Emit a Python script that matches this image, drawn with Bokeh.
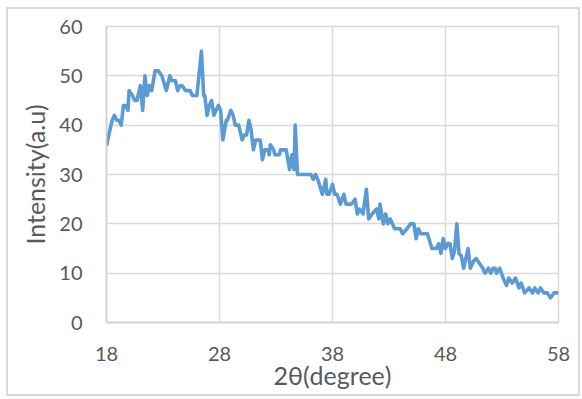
from bokeh.plotting import figure
from bokeh.models import FixedTicker, Range1d
from bokeh.embed import file_html
from bokeh.resources import INLINE

two_theta = [18, 18.2, 18.5, 18.7, 18.9, 19.1, 19.3, 19.5, 19.7, 19.9, 20, 20.3, 20.5, 20.7, 21, 21.2,
             21.4, 21.6, 21.8, 22, 22.3, 22.6, 22.9, 23.3, 23.6, 23.8, 24.1, 24.3, 24.5, 24.7, 25, 25.4,
             25.6, 26, 26.4, 26.6, 26.7, 26.9, 27.1, 27.3, 27.5, 27.7, 27.9, 28.1, 28.3, 28.6, 28.7, 29,
             29.2, 29.4, 29.7, 30, 30.2, 30.4, 30.6, 30.8, 31, 31.2, 31.6, 31.8, 32, 32.3, 32.4, 32.5,
             32.8, 32.9, 33.3, 33.4, 33.9, 34.2, 34.4, 34.6, 34.7, 34.9, 36.1, 36.3, 36.5, 36.7, 37.1,
             37.4, 37.5, 37.7, 38, 38.2, 38.4, 38.7, 39, 39.2, 39.7, 40, 40.2, 40.4, 40.7, 41, 41.2, 41.5,
             41.9, 42.1, 42.2, 42.5, 42.7, 42.9, 43.1, 43.3, 43.5, 44, 44.2, 44.6, 44.9, 45.2, 45.4, 45.6,
             45.8, 46.4, 46.8, 47.2, 47.4, 47.6, 47.8, 48, 48.2, 48.4, 48.6, 48.8, 49, 49.2, 49.4, 49.6,
             50, 50.2, 50.5, 50.7, 51, 51.3, 51.5, 51.8, 52, 52.2, 52.4, 52.5, 52.8, 53.1, 53.4, 53.6,
             53.9, 54.2, 54.5, 54.7, 55, 55.4, 55.7, 55.9, 56.2, 56.4, 56.7, 57, 57.3, 57.6, 58]
intensity = [35.8, 38, 41, 42, 41, 41, 40, 44, 44, 43, 47, 46, 45, 45, 48, 43,
             50, 46, 48, 47, 51, 51, 50, 47, 50, 49, 49, 47, 48, 48, 47, 47,
             46, 46, 55, 46, 46, 42, 44, 45, 42, 43, 44, 43, 37, 41, 41, 43,
             42, 40, 40, 37, 38, 38, 41, 39, 35, 37, 37, 33, 35, 35, 34, 36,
             35, 34, 34, 35, 35, 31, 34, 31, 40, 30, 30, 29, 30, 29, 26,
             29, 26, 26, 28, 26, 26, 24, 26, 24, 24, 25, 22, 23, 22, 27, 21, 22,
             23, 21, 24, 20, 22, 20, 21, 20, 19, 19, 18, 19, 20, 20, 17, 19,
             18, 18, 15, 15, 16, 14, 17, 15, 16, 16, 13, 14.5, 20, 14, 13.5, 11,
             15, 11, 12.5, 13, 12, 11, 10, 11, 10, 11, 11, 10, 11, 9, 7.5, 9,
             8, 9, 7, 8, 6, 7, 6, 7, 6, 7, 6, 6, 5, 6, 6]
x_ticks = [18, 28, 38, 48, 58]
y_ticks = [0, 10, 20, 30, 40, 50, 60]

FONT = "Lato"
GRID = "#d9d9d9"
TXT = "#595959"

p = figure(width=574, height=389, output_backend="svg", toolbar_location=None,
           x_range=Range1d(18, 58), y_range=Range1d(0, 60),
           min_border_left=98, min_border_right=24, min_border_top=17, min_border_bottom=76,
           styles={"border": "2px solid #d9d9d9", "box-sizing": "border-box",
                   "margin-left": "6px", "margin-top": "7px"})

p.line(two_theta, intensity, line_color="#5b9bd5", line_width=3.6, line_join="round")

p.outline_line_color = GRID
p.outline_line_width = 1.5

for ax in (p.xaxis[0], p.yaxis[0]):
    ax.axis_line_color = "#cfcfcf"
    ax.axis_line_width = 1.5
    ax.major_tick_line_color = None
    ax.minor_tick_line_color = None
    ax.major_tick_in = 0
    ax.major_tick_out = 0
    ax.major_label_text_font = FONT
    ax.major_label_text_font_size = "20px"
    ax.major_label_text_color = TXT
    ax.axis_label_text_font = FONT
    ax.axis_label_text_font_size = "25px"
    ax.axis_label_text_font_style = "normal"
    ax.axis_label_text_color = TXT

p.xaxis.ticker = FixedTicker(ticks=x_ticks)
p.yaxis.ticker = FixedTicker(ticks=y_ticks)
p.xaxis.major_label_standoff = 24
p.yaxis.major_label_standoff = 24
p.xaxis.axis_label = "2θ(degree)"
p.yaxis.axis_label = "Intensity(a.u)"
p.xaxis.axis_label_standoff = -4
p.yaxis.axis_label_standoff = 6

p.xgrid.ticker = FixedTicker(ticks=x_ticks)
p.ygrid.ticker = FixedTicker(ticks=y_ticks)
p.grid.grid_line_color = GRID
p.grid.grid_line_width = 1.5

open("out.html", "w").write(file_html(p, INLINE))
